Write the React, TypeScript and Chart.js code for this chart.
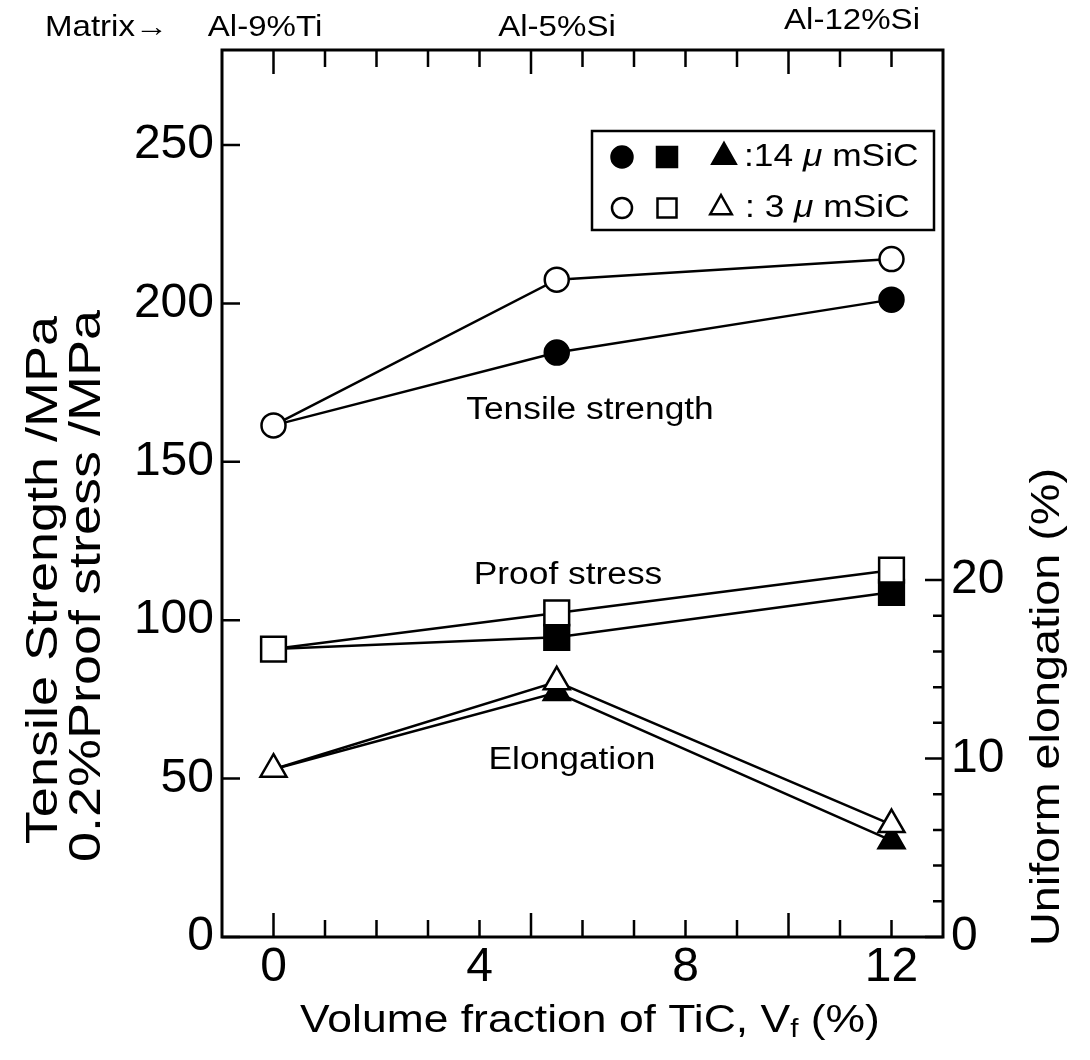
import React, { useEffect, useRef } from "react";
import { Chart, registerables } from "chart.js";

Chart.register(...registerables);

// ---------- data ----------
const xValues = [0, 5.5, 12];
const tensile14 = [161.5, 184.5, 201.2];
const tensile3 = [161.5, 207.5, 214.0];
const proof14 = [90.9, 94.6, 108.8];
const proof3 = [90.9, 102.3, 115.8];
const elong14 = [9.4, 13.7, 5.4];
const elong3 = [9.4, 14.3, 6.3];

const xTickLabels = [0, 4, 8, 12];
const xTickMarks = [0, 1, 2, 3, 4, 5, 6, 7, 8, 9, 10, 11, 12];
const leftTickLabels = [0, 50, 100, 150, 200, 250];
const rightTickMarks = [0, 2, 4, 6, 8, 10, 12, 14, 16, 18, 20];
const rightTickLabels = [0, 10, 20];
const matrixLabels = ["Al-9%Ti", "Al-5%Si", "Al-12%Si"];

const FONT = '"Liberation Sans", Arial, Helvetica, sans-serif';
const STRETCH = 1.14;

type Run = { text: string; size: number; dy?: number; italic?: boolean };

function drawRuns(
  ctx: CanvasRenderingContext2D,
  runs: Run[],
  x: number,
  y: number,
  rot: number,
  align: "left" | "center",
  stretch = STRETCH
) {
  ctx.save();
  ctx.translate(x, y);
  if (rot) ctx.rotate(rot);
  ctx.scale(stretch, 1);
  ctx.fillStyle = "#000";
  ctx.textBaseline = "middle";
  ctx.textAlign = "left";
  let total = 0;
  const widths = runs.map((r) => {
    ctx.font = `${r.italic ? "italic " : ""}${r.size}px ${FONT}`;
    const w = ctx.measureText(r.text).width;
    total += w;
    return w;
  });
  let cx = align === "center" ? -total / 2 : 0;
  runs.forEach((r, i) => {
    ctx.font = `${r.italic ? "italic " : ""}${r.size}px ${FONT}`;
    ctx.fillText(r.text, cx, r.dy || 0);
    cx += widths[i];
  });
  ctx.restore();
}

function drawMarker(
  ctx: CanvasRenderingContext2D,
  kind: "circle" | "rect" | "triangle",
  x: number,
  y: number,
  r: number,
  filled: boolean
) {
  ctx.save();
  ctx.beginPath();
  if (kind === "circle") {
    ctx.arc(x, y, r, 0, Math.PI * 2);
  } else if (kind === "rect") {
    ctx.rect(x - r, y - r, 2 * r, 2 * r);
  } else {
    ctx.moveTo(x, y - r);
    ctx.lineTo(x + r * 0.9, y + r * 0.6);
    ctx.lineTo(x - r * 0.9, y + r * 0.6);
    ctx.closePath();
  }
  ctx.lineWidth = 2.5;
  ctx.strokeStyle = "#000";
  ctx.fillStyle = filled ? "#000" : "#fff";
  ctx.fill();
  ctx.stroke();
  ctx.restore();
}

const decorPlugin = {
  id: "decor",
  beforeDatasetsDraw(chart: any) {
    const { ctx, chartArea: a, scales } = chart;
    const xs = scales.x;
    const ys = scales.y;
    const y2 = scales.y2;
    ctx.save();
    ctx.strokeStyle = "#000";
    ctx.lineWidth = 3;
    ctx.strokeRect(a.left, a.top, a.right - a.left, a.bottom - a.top);
    ctx.lineWidth = 2.5;
    ctx.beginPath();
    xs.ticks.forEach((t: any) => {
      const px = xs.getPixelForValue(t.value);
      const L = t.value % 5 === 0 ? 24 : 17;
      ctx.moveTo(px, a.bottom);
      ctx.lineTo(px, a.bottom - L);
      ctx.moveTo(px, a.top);
      ctx.lineTo(px, a.top + L);
    });
    ys.ticks.forEach((t: any) => {
      const py = ys.getPixelForValue(t.value);
      ctx.moveTo(a.left, py);
      ctx.lineTo(a.left + 18, py);
    });
    y2.ticks.forEach((t: any) => {
      const py = y2.getPixelForValue(t.value);
      const L = t.value % 10 === 0 ? 18 : 10;
      ctx.moveTo(a.right, py);
      ctx.lineTo(a.right - L, py);
    });
    ctx.stroke();
    ctx.restore();
  },
  afterDraw(chart: any) {
    const { ctx } = chart;
    // top matrix labels
    drawRuns(ctx, [{ text: "Matrix\u2192", size: 29 }], 45, 28, 0, "left");
    drawRuns(ctx, [{ text: matrixLabels[0], size: 29 }], 265, 28, 0, "center");
    drawRuns(ctx, [{ text: matrixLabels[1], size: 29 }], 557, 28, 0, "center");
    drawRuns(ctx, [{ text: matrixLabels[2], size: 29 }], 852, 21, 0, "center");

    // in-plot annotations
    drawRuns(ctx, [{ text: "Tensile strength", size: 31 }], 590, 410, 0, "center");
    drawRuns(ctx, [{ text: "Proof stress", size: 31 }], 568, 575, 0, "center");
    drawRuns(ctx, [{ text: "Elongation", size: 31 }], 572, 760, 0, "center");

    // axis titles
    drawRuns(
      ctx,
      [
        { text: "Volume fraction of TiC, V", size: 39 },
        { text: "f", size: 26, dy: 9 },
        { text: " (%)", size: 39 },
      ],
      590,
      1021,
      0,
      "center"
    );
    drawRuns(ctx, [{ text: "Tensile Strength /MPa", size: 45 }], 45, 580, -Math.PI / 2, "center", 1.2);
    drawRuns(ctx, [{ text: "0.2%Proof stress /MPa", size: 45 }], 88, 586, -Math.PI / 2, "center", 1.2);
    drawRuns(ctx, [{ text: "Uniform elongation (%)", size: 41 }], 1048, 707, -Math.PI / 2, "center");

    // legend box
    ctx.save();
    ctx.strokeStyle = "#000";
    ctx.lineWidth = 2.5;
    ctx.strokeRect(592, 131, 342, 99);
    ctx.restore();
    drawMarker(ctx, "circle", 622, 157, 10.5, true);
    drawMarker(ctx, "rect", 667, 157, 10, true);
    drawMarker(ctx, "triangle", 724, 156, 13, true);
    drawMarker(ctx, "circle", 622, 208, 10, false);
    drawMarker(ctx, "rect", 667, 208, 9.5, false);
    drawMarker(ctx, "triangle", 721, 207, 12, false);
    drawRuns(
      ctx,
      [
        { text: ":14 ", size: 31 },
        { text: "\u03bc", size: 31, italic: true },
        { text: " mSiC", size: 31 },
      ],
      744,
      157,
      0,
      "left"
    );
    drawRuns(
      ctx,
      [
        { text: ": 3 ", size: 31 },
        { text: "\u03bc", size: 31, italic: true },
        { text: " mSiC", size: 31 },
      ],
      745,
      208,
      0,
      "left"
    );
  },
};

const pts = (ys: number[]) => xValues.map((x, i) => ({ x, y: ys[i] }));

export default function App() {
  const ref = useRef<HTMLCanvasElement | null>(null);

  useEffect(() => {
    if (!ref.current) return;
    Chart.defaults.font.family = FONT;
    Chart.defaults.color = "#000";
    const common = {
      borderColor: "#000",
      borderWidth: 2.5,
      pointBorderColor: "#000",
      pointBorderWidth: 2.5,
      fill: false,
      tension: 0,
      clip: false as any,
    };
    const chart = new Chart(ref.current, {
      type: "line",
      data: {
        datasets: [
          { ...common, label: "Tensile 3", data: pts(tensile3), yAxisID: "y", pointStyle: "circle", pointRadius: 12, pointBackgroundColor: "#fff" },
          { ...common, label: "Proof 3", data: pts(proof3), yAxisID: "y", pointStyle: "rect", pointRadius: 17.5, pointBackgroundColor: "#fff" },
          { ...common, label: "Elong 3", data: pts(elong3), yAxisID: "y2", pointStyle: "triangle", pointRadius: 15, pointBackgroundColor: "#fff" },
          { ...common, label: "Tensile 14", data: pts(tensile14), yAxisID: "y", pointStyle: "circle", pointRadius: [0, 12, 12], pointBackgroundColor: "#000" },
          { ...common, label: "Proof 14", data: pts(proof14), yAxisID: "y", pointStyle: "rect", pointRadius: [0, 17.5, 17.5], pointBackgroundColor: "#000" },
          { ...common, label: "Elong 14", data: pts(elong14), yAxisID: "y2", pointStyle: "triangle", pointRadius: [0, 15, 15], pointBackgroundColor: "#000" },
        ] as any,
      },
      options: {
        responsive: false,
        maintainAspectRatio: false,
        animation: false,
        devicePixelRatio: 1,
        events: [],
        layout: { padding: { top: 50, left: 0, right: 0, bottom: 0 } },
        plugins: { legend: { display: false }, tooltip: { enabled: false }, title: { display: false } },
        scales: {
          x: {
            type: "linear",
            position: "bottom",
            min: -1,
            max: 13,
            grid: { display: false, drawTicks: false },
            border: { display: false },
            afterBuildTicks: (s: any) => {
              s.ticks = xTickMarks.map((v) => ({ value: v }));
            },
            afterFit: (s: any) => {
              s.height = 123;
            },
            ticks: {
              autoSkip: false,
              maxRotation: 0,
              padding: 2,
              color: "#000",
              font: { size: 48, family: FONT },
              callback: (v: any) => (xTickLabels.includes(Number(v)) ? String(v) : ""),
            },
          },
          y: {
            type: "linear",
            position: "left",
            min: 0,
            max: 280,
            grid: { display: false, drawTicks: false },
            border: { display: false },
            afterBuildTicks: (s: any) => {
              s.ticks = leftTickLabels.map((v) => ({ value: v }));
            },
            afterFit: (s: any) => {
              s.width = 222;
            },
            ticks: {
              padding: 8,
              color: "#000",
              font: { size: 48, family: FONT },
              callback: (v: any) => String(v),
            },
          },
          y2: {
            type: "linear",
            position: "right",
            min: 0,
            max: 49.7,
            grid: { display: false, drawTicks: false },
            border: { display: false },
            afterBuildTicks: (s: any) => {
              s.ticks = rightTickMarks.map((v) => ({ value: v }));
            },
            afterFit: (s: any) => {
              s.width = 147;
            },
            ticks: {
              padding: 8,
              color: "#000",
              font: { size: 48, family: FONT },
              callback: (v: any) => (rightTickLabels.includes(Number(v)) ? String(v) : ""),
            },
          },
        },
      } as any,
      plugins: [decorPlugin],
    });
    return () => chart.destroy();
  }, []);

  return (
    <div style={{ position: "absolute", left: 0, top: 0, width: 1090, height: 1060, background: "#fff" }}>
      <canvas ref={ref} width={1090} height={1060} style={{ display: "block", width: 1090, height: 1060 }} />
    </div>
  );
}
